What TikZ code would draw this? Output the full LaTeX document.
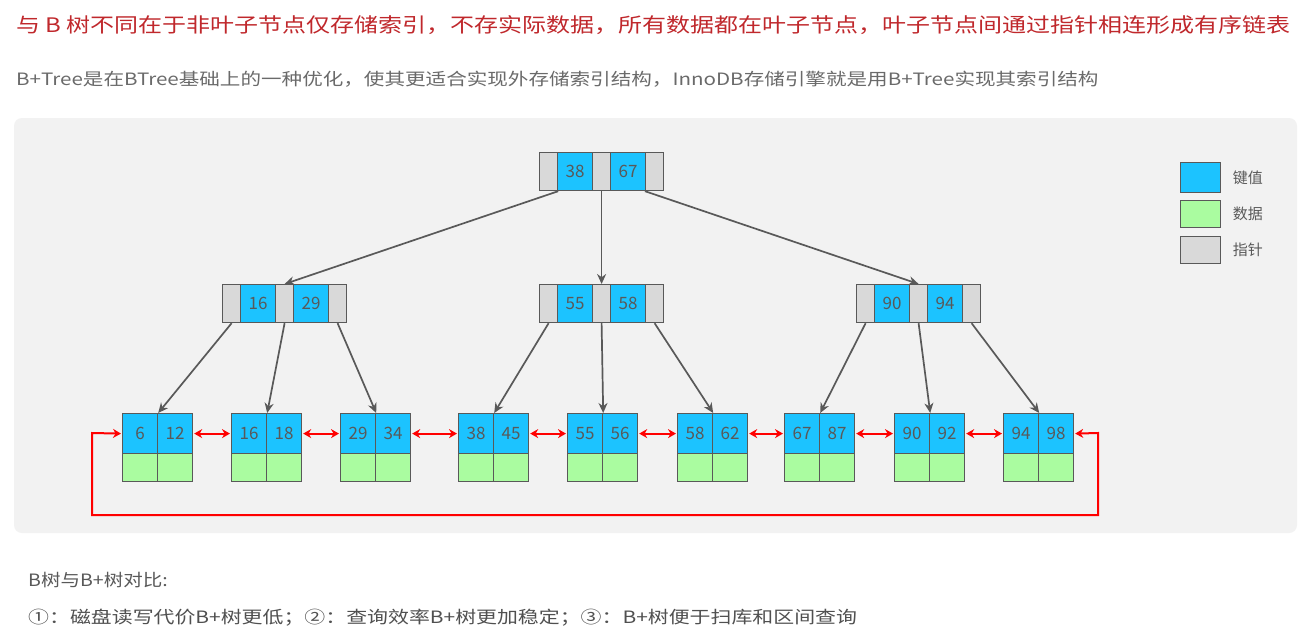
\documentclass[tikz,border=0pt]{standalone}
\usepackage{fontspec}
\setmainfont{Noto Sans CJK SC}
\usetikzlibrary{arrows.meta}
\definecolor{kblue}{HTML}{1CC3FF}
\definecolor{dgreen}{HTML}{AAFCA0}
\definecolor{pgray}{HTML}{D9D9D9}
\definecolor{edge}{HTML}{595959}
\definecolor{ttl}{HTML}{C0282C}
\tikzset{
 cell/.style={draw=edge,line width=1.2pt,anchor=north west,inner sep=0pt,minimum height=#1,font=\fontsize{17}{17}\selectfont,text=edge},
 key/.style={cell=40pt,fill=kblue,minimum width=35pt},
 dat/.style={cell=28pt,fill=dgreen,minimum width=35pt},
 ptr/.style={cell=38pt,fill=pgray,minimum width=18pt},
 ik/.style={cell=38pt,fill=kblue,minimum width=35pt},
 tree/.style={draw=edge,line width=1.7pt,-{Stealth[length=10pt,width=9pt]}},
 link/.style={draw=red,line width=2pt,{Stealth[length=8pt,width=9pt]}-{Stealth[length=8pt,width=9pt]}},
 lg/.style={draw=edge,line width=1.2pt,inner sep=0pt,minimum width=40pt,anchor=north west},
}
\newcommand\mkleaf[4]{%
 \node[key] (#1a) at (#2,413) {#3};
 \node[key] (#1b) at (#2+35,413) {#4};
 \node[dat] (#1c) at (#2,453) {};
 \node[dat] (#1d) at (#2+35,453) {};}
\begin{document}
\begin{tikzpicture}[x=1pt,y=-1pt]
\useasboundingbox (0,0) rectangle (1311,637);
\fill[white] (0,0) rectangle (1311,637);
\node[anchor=west,text=ttl,font=\fontsize{20}{20}\selectfont,inner sep=0pt] (title) at (16,25) {\scalebox{1.2}[1]{与 B 树不同在于非叶子节点仅存储索引，不存实际数据，所有数据都在叶子节点，叶子节点间通过指针相连形成有序链表}};
\node[anchor=west,text=edge!90,font=\fontsize{17}{17}\selectfont,inner sep=0pt] (sub) at (16,79) {\scalebox{1.21}[1]{B+Tree是在BTree基础上的一种优化，使其更适合实现外存储索引结构，InnoDB存储引擎就是用B+Tree实现其索引结构}};
\fill[fill=black!5,rounded corners=8pt] (14,118) rectangle (1297,533);
% root
\node[ptr] (r1) at (539,152) {};
\node[ik] (r2) at (557,152) {38};
\node[ptr] (r3) at (592,152) {};
\node[ik] (r4) at (610,152) {67};
\node[ptr] (r5) at (645,152) {};
% internal
\node[ptr] (a1) at (222,284) {}; \node[ik] (a2) at (240,284) {16}; \node[ptr] (a3) at (275,284) {}; \node[ik] (a4) at (293,284) {29}; \node[ptr] (a5) at (328,284) {};
\node[ptr] (b1) at (539,284) {}; \node[ik] (b2) at (557,284) {55}; \node[ptr] (b3) at (592,284) {}; \node[ik] (b4) at (610,284) {58}; \node[ptr] (b5) at (645,284) {};
\node[ptr] (c1) at (856,284) {}; \node[ik] (c2) at (874,284) {90}; \node[ptr] (c3) at (909,284) {}; \node[ik] (c4) at (927,284) {94}; \node[ptr] (c5) at (962,284) {};
% leaves
\mkleaf{l1}{122}{6}{12}
\mkleaf{l2}{231}{16}{18}
\mkleaf{l3}{340}{29}{34}
\mkleaf{l4}{458}{38}{45}
\mkleaf{l5}{567}{55}{56}
\mkleaf{l6}{677}{58}{62}
\mkleaf{l7}{784}{67}{87}
\mkleaf{l8}{894}{90}{92}
\mkleaf{l9}{1003}{94}{98}
% tree edges
\draw[tree] (r1.south east) -- (a3.north);
\draw[tree] (r3.south) -- (b3.north);
\draw[tree] (r5.south west) -- (c3.north);
\foreach \p/\q in {a/l1,b/l4,c/l7}{
 \draw[tree] (\p1.south) -- (\q a.north east);}
\foreach \p/\q in {a/l2,b/l5,c/l8}{
 \draw[tree] (\p3.south) -- (\q a.north east);}
\foreach \p/\q in {a/l3,b/l6,c/l9}{
 \draw[tree] (\p5.south) -- (\q a.north east);}
% links
\foreach \i/\j in {1/2,2/3,3/4,4/5,5/6,6/7,7/8,8/9}{
 \draw[link] ([xshift=1pt]l\i b.east) -- ([xshift=-1pt]l\j a.west);}
\coordinate (e1) at (1098,433);
\coordinate (e2) at (92,433);
\draw[link] ([xshift=1pt]l9b.east) -- (e1) |- (92,515) -- (e2) -- ([xshift=-1pt]l1a.west);
% legend
\node[lg,fill=kblue,minimum height=30pt] (g1) at (1180,162) {};
\node[lg,fill=dgreen,minimum height=27pt] (g2) at (1180,200) {};
\node[lg,fill=pgray,minimum height=27pt] (g3) at (1180,236) {};
\foreach \g/\t in {g1/键值,g2/数据,g3/指针}
 \node[anchor=west,text=edge,font=\fontsize{15}{15}\selectfont] at ([xshift=8pt]\g.east) {\t};
% bottom
\node[anchor=west,text=edge,font=\fontsize{17}{17}\selectfont,inner sep=0pt] (b1t) at (28,580) {\scalebox{1.15}[1]{B树与B+树对比:}};
\node[anchor=west,text=edge!90!black,font=\fontsize{17}{17}\selectfont,inner sep=0pt] (b2t) at (28,618) {\scalebox{1.23}[1]{①：磁盘读写代价B+树更低；②：查询效率B+树更加稳定；③：B+树便于扫库和区间查询}};
\end{tikzpicture}
\end{document}
